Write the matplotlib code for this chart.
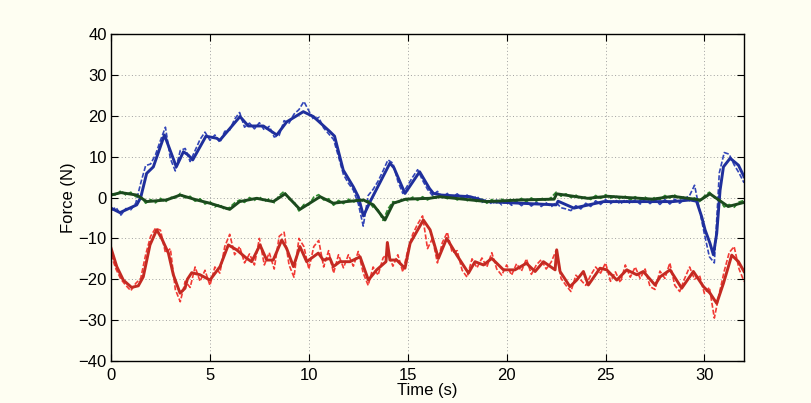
import numpy as np
import matplotlib
matplotlib.use("Agg")
import matplotlib.pyplot as plt

# --- filtered force estimates (solid lines), sampled at irregular times ---
t_x = [0, 0.45, 1.3, 1.5, 1.8, 2.14, 2.7, 3.3, 3.66, 3.9, 4.13, 4.8, 5.34, 5.5,
       6.52, 6.94, 7.7, 8.38, 8.88, 9.72, 10.23, 11.07, 11.3, 11.74, 12.25, 12.5,
       12.76, 13.1, 14.1, 14.3, 14.86, 15.6, 16.1, 16.3, 16.7, 18.15, 19.0, 20.7,
       22.5, 22.6, 23.4, 24.9, 27.4, 28.4, 29.27, 29.6, 29.86, 30.03, 30.28, 30.45,
       30.62, 30.79, 30.96, 31.3, 31.72, 32.0]
f_x = [-2.6, -3.7, -1.8, 0.0, 5.9, 7.5, 15.3, 7.5, 11.2, 10.4, 9.2, 15.0, 14.5, 14.0,
       19.8, 17.5, 17.5, 15.3, 18.5, 21.0, 19.8, 16.1, 15.0, 6.7, 2.6, 0.2,
       -4.5, -1.0, 8.4, 7.3, 1.0, 6.3, 2.2, 1.0, 0.6, 0.2, -1.0, -1.4,
       -1.8, -0.9, -2.6, -1.0, -1.0, -1.0, -0.6, -0.9, -4.7, -7.9, -11.2, -14.0,
       -8.8, 1.8, 7.5, 9.6, 7.9, 5.1]

t_y = [0, 0.5, 1.3, 1.8, 2.8, 3.5, 4.33, 5.0, 6.0, 6.5, 7.36, 8.2, 8.8, 9.55,
       10.57, 11.24, 11.9, 12.76, 13.26, 13.85, 14.27, 14.9, 16.1, 16.6, 19.0,
       20.7, 22.4, 22.53, 24.1, 25.1, 27.4, 28.4, 29.8, 30.28, 31.2, 32.0]
f_y = [0.6, 1.2, 0.6, -1.0, -0.6, 0.6, -0.6, -1.4, -2.9, -1.0, -0.2, -1.0, 0.9, -2.9,
       0.2, -1.4, -1.0, -0.6, -1.8, -5.5, -1.4, -0.4, -0.2, 0.2, -1.0,
       -0.6, -0.4, 0.9, -0.2, 0.3, -0.4, 0.3, -0.6, 0.9, -2.2, -1.2]

t_z = [0, 0.29, 0.62, 1.04, 1.38, 1.63, 1.97, 2.31, 2.56, 2.9, 3.15, 3.49, 3.74,
       3.86, 4.08, 4.5, 5.0, 5.51, 5.93, 6.35, 6.86, 7.11, 7.53, 7.87, 8.2, 8.63,
       8.88, 9.22, 9.55, 9.89, 10.48, 10.73, 11.07, 11.24, 11.57, 12.08, 12.59,
       13.01, 13.43, 13.9, 13.97, 14.1, 14.44, 14.86, 15.12, 15.79, 16.13, 16.55,
       16.97, 17.48, 18.07, 18.4, 18.83, 19.25, 19.84, 20.42, 21.0, 21.44, 21.86,
       22.45, 22.53, 22.7, 23.2, 23.54, 23.88, 24.13, 24.72, 25.06, 25.57, 26.07,
       26.58, 26.91, 27.5, 27.76, 28.26, 28.85, 29.44, 29.95, 30.28, 30.62, 30.96,
       31.38, 31.72, 32.0]
f_z = [-12.4, -16.9, -20.2, -22.0, -21.6, -19.4, -11.6, -7.9, -10.0, -13.6, -18.9,
       -23.4, -22.2, -20.0, -18.4, -18.9, -20.2, -16.9, -11.6, -12.8, -14.9, -15.7,
       -11.6, -15.3, -15.3, -10.4, -12.5, -16.9, -12.0, -15.7, -13.6, -15.3, -14.9,
       -16.9, -15.7, -15.7, -14.5, -20.2, -17.7, -15.7, -11.0, -15.3, -15.3, -17.3,
       -11.2, -5.5, -7.9, -14.9, -10.0, -14.1, -18.5, -15.7, -16.5, -14.9, -17.7,
       -17.7, -16.1, -18.1, -15.7, -17.7, -12.8, -18.1, -21.8, -20.2, -18.1, -21.4,
       -17.3, -17.7, -20.2, -17.7, -18.9, -18.1, -21.4, -19.4, -17.7, -22.2, -18.1,
       -21.8, -23.4, -25.9, -21.0, -14.1, -15.7, -18.1]

# --- raw measured forces (dashed lines), sampled every 0.25 s ---
meas_x = [-3.2, -2.4, -4.3, -2.7, -3.0, -1.4, 3.5, 7.8, 8.2, 10.5, 14.0, 17.2, 9.5,
          6.5, 11.5, 12.0, 8.8, 11.5, 14.2, 16.0, 14.0, 15.3, 13.5, 16.2, 16.5,
          19.2, 20.8, 17.2, 18.2, 16.8, 18.3, 16.5, 17.4, 14.8, 15.2, 18.8, 18.2,
          20.4, 21.5, 23.5, 21.2, 19.0, 19.6, 17.0, 15.6, 14.2, 10.0, 5.6, 3.5,
          1.8, -1.5, -7.0, 0.5, 2.0, 4.0, 6.5, 9.2, 8.4, 4.0, 1.0, 3.0, 5.0, 6.8,
          4.2, 2.0, 0.5, 1.5, 0.0, 1.0, 0.0, 0.9, -0.2, 0.6, -0.4, 0.3, -1.2, -0.5,
          -1.6, -0.6, -1.8, -0.8, -1.9, -0.9, -2.0, -1.0, -2.1, -1.1, -2.2, -1.3,
          -2.3, -1.2, -2.5, -2.8, -3.2, -2.0, -2.8, -1.4, -2.2, -0.8, -1.7, -0.5,
          -1.5, -0.6, -1.6, -0.5, -1.5, -0.6, -1.6, -0.4, -1.5, -0.6, -1.7, -0.5,
          -1.6, -0.4, -1.4, -0.3, 0.5, 3.0, -3.0, -9.0, -14.5, -16.0, 6.0, 11.0,
          10.6, 8.0, 6.0, 3.6]
meas_y = [1.0, 0.5, 1.7, 0.6, 1.3, 0.2, 0.3, -1.4, -0.5, -1.3, -0.2, -1.1, 0.1,
          -0.2, 1.0, -0.1, 0.3, -0.9, -0.3, -1.6, -1.0, -2.3, -1.7, -3.0, -2.4,
          -1.3, -0.6, -1.2, 0.0, -0.7, 0.2, -1.0, -0.3, -1.3, 0.5, 1.5, -0.4,
          -1.0, -3.3, -1.7, -1.8, 0.1, 0.7, -0.6, -0.3, -1.9, -0.7, -1.5, -0.4,
          -1.2, -0.2, -1.0, -0.8, -2.4, -3.0, -5.6, -2.8, -1.0, -1.4, -0.2, -0.8,
          0.1, -0.7, 0.2, -0.6, 0.3, -0.3, 0.6, -0.3, 0.4, -0.6, 0.1, -0.8, -0.1,
          -1.1, -0.4, -1.4, -0.5, -1.3, -0.4, -1.2, -0.3, -1.1, -0.2, -1.0, -0.1,
          -0.9, -0.1, -0.8, 0.0, 1.3, 0.3, 0.9, 0.0, 0.6, -0.4, 0.2, -0.5, 0.5,
          -0.2, 0.7, -0.2, 0.5, -0.4, 0.3, -0.6, 0.2, -0.7, 0.1, -0.8, 0.1, -0.5,
          0.5, -0.1, 0.6, -0.4, 0.2, -0.8, -0.1, -1.0, 0.4, 1.3, 0.0, -0.4, -2.3,
          -1.7, -2.4, -1.1, -0.7]
meas_z = [-14.0, -17.5, -20.0, -21.5, -22.8, -21.0, -19.8, -14.0, -9.5, -7.5, -8.0,
          -13.5, -12.5, -22.5, -25.5, -20.5, -22.0, -17.0, -20.5, -17.8, -21.5,
          -17.0, -18.5, -12.0, -9.0, -14.0, -12.0, -16.0, -13.8, -16.5, -10.0,
          -16.5, -13.5, -17.5, -9.5, -8.5, -16.5, -19.5, -10.0, -12.0, -17.5,
          -12.0, -10.5, -17.0, -13.0, -18.5, -14.0, -17.2, -14.0, -16.8, -13.2,
          -18.5, -21.5, -17.0, -19.0, -14.8, -13.5, -16.8, -14.0, -18.2, -13.0,
          -9.0, -6.5, -4.5, -12.5, -10.0, -16.0, -11.0, -8.5, -13.5, -13.0, -17.8,
          -19.5, -15.0, -17.2, -14.8, -17.0, -13.5, -17.5, -19.0, -16.5, -19.0,
          -16.2, -18.0, -15.0, -18.8, -16.5, -15.2, -17.5, -15.8, -13.0, -19.8,
          -21.5, -23.0, -19.0, -20.2, -21.5, -19.0, -17.0, -18.5, -16.0, -20.5,
          -18.2, -20.8, -16.5, -19.5, -17.0, -19.8, -17.5, -21.8, -22.5, -18.0,
          -19.8, -16.0, -21.5, -23.0, -19.8, -17.0, -20.0, -19.0, -23.5, -22.0,
          -29.5, -23.5, -18.0, -13.5, -12.0, -17.5, -20.5]
t_meas = np.arange(len(meas_x)) * 0.25

x_ticks = [0, 5, 10, 15, 20, 25, 30]
y_ticks = [-40, -30, -20, -10, 0, 10, 20, 30, 40]

bg = "#fefef2"
plt.rcParams["font.family"] = ["Liberation Sans", "DejaVu Sans"]

fig = plt.figure(figsize=(8.11, 4.03), dpi=100, facecolor=bg)
ax = fig.add_axes([0.1369, 0.1042, 0.7805, 0.8114], facecolor=bg)

dash = dict(linewidth=1.2, linestyle=(0, (3.0, 1.2)))
ax.plot(t_meas, meas_x, color="#3346b8", **dash)
ax.plot(t_meas, meas_y, color="#2f8a2f", **dash)
ax.plot(t_meas, meas_z, color="#f23a35", **dash)

solid = dict(linewidth=2.1, solid_joinstyle="round")
ax.plot(t_x, f_x, color="#1f2f9c", **solid)
ax.plot(t_y, f_y, color="#1b4a1d", **solid)
ax.plot(t_z, f_z, color="#c42a22", **solid)

ax.set_xlim(0, 32)
ax.set_ylim(-40, 40)
ax.set_xticks(x_ticks)
ax.set_yticks(y_ticks)
ax.grid(True, linestyle=(0, (1, 2.5)), color="#a0a0a0", linewidth=0.7)
ax.tick_params(direction="in", length=5, width=0.8, top=True, right=True,
               labelsize=12, colors="black")
ax.tick_params(axis="x", pad=5)
ax.tick_params(axis="y", pad=3)
for s in ax.spines.values():
    s.set_linewidth(1.0)
    s.set_color("black")

ax.set_xlabel("Time (s)", fontsize=12, labelpad=0)
ax.set_ylabel("Force (N)", fontsize=12, labelpad=2)

fig.savefig("out.png", dpi=100, facecolor=bg)
